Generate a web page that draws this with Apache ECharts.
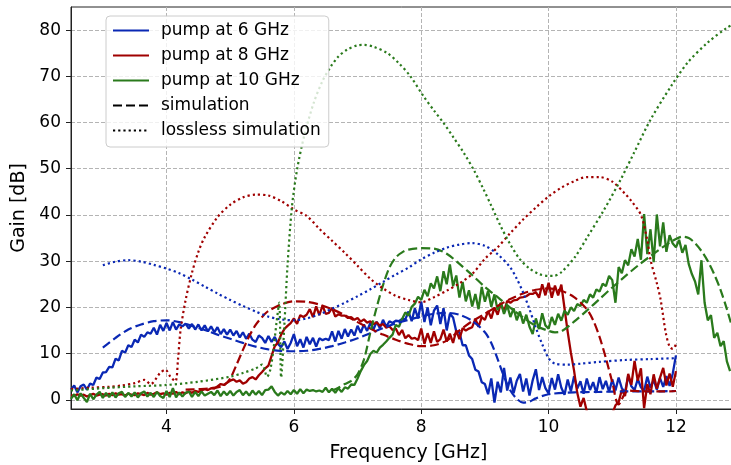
<!DOCTYPE html>
<html>
<head>
<meta charset="utf-8">
<script src="https://cdn.jsdelivr.net/npm/echarts@6/dist/echarts.min.js"></script>
<style>
  html, body { margin: 0; padding: 0; background: #fff; }
  #chart { width: 731px; height: 465px; }
</style>
</head>
<body>
<div id="chart"></div>
<script>
// measured gain, sampled every 0.05 GHz starting at 2.5 GHz
var measStart = 2.5;
var measStep = 0.05;

var meas6 = [
  2.2, 3.1, 1.6, 2.9, 3.3, 2.2, 3.5, 3.2, 4.8, 4.5,
  5.9, 6.0, 7.1, 7.0, 8.9, 8.5, 10.6, 10.2, 11.8, 11.4,
  13.0, 12.4, 14.1, 13.6, 14.6, 14.3, 15.6, 14.1, 16.2, 14.9,
  16.6, 15.0, 16.8, 15.2, 16.3, 15.9, 16.5, 15.4, 16.4, 15.2,
  16.3, 15.0, 16.1, 14.8, 15.9, 14.6, 15.7, 14.2, 15.3, 14.1,
  15.2, 13.9, 14.9, 13.5, 14.6, 13.2, 14.3, 13.0, 12.5, 13.9,
  13.4, 12.3, 13.8, 12.5, 13.6, 12.1, 11.4, 12.6, 11.0, 12.3,
  14.2, 11.6, 13.1, 11.3, 13.6, 12.0, 13.4, 11.5, 13.3, 12.9,
  13.2, 12.9, 14.8, 12.6, 14.9, 13.2, 15.3, 13.7, 15.2, 13.9,
  16.0, 14.5, 16.3, 14.9, 16.6, 15.2, 16.9, 15.5, 17.3, 15.8,
  17.0, 16.6, 17.1, 17.0, 17.5, 17.4, 19.1, 17.0, 19.8, 17.6,
  21.2, 16.8, 20.0, 16.1, 19.3, 20.4, 16.4, 19.8, 15.0, 18.6,
  17.8, 14.8, 14.6, 11.8, 11.8, 9.6, 8.8, 6.5, 6.1, 3.8,
  3.4, 1.2, 4.6, -0.6, 3.9, 1.6, 6.9, 2.0, 4.8, 1.4,
  4.1, 5.6, 1.8, 4.6, 0.9, 4.2, 6.6, 2.1, 4.9, 2.5,
  1.4, 4.7, 2.2, 5.5, 2.6, 1.1, 4.4, 1.8, 5.1, 2.4,
  4.0, 1.3, 4.6, 2.1, 3.8, 1.5, 4.9, 2.3, 4.1, 1.7,
  4.4, 2.0, 4.8, 2.5, 1.6, 5.2, 2.9, 2.1, 4.5, 2.7,
  1.9, 5.0, 2.6, 4.3, 2.2, 4.7, 2.8, 5.1, 3.0, 5.7,
  9.6
];

var meas8 = [
  1.0, 0.8, 1.2, 0.9, 1.1, 0.7, 1.0, 1.3, 0.9, 1.1,
  1.2, 0.9, 1.3, 1.0, 1.4, 1.1, 1.2, 0.9, 1.3, 1.1,
  1.0, 1.4, 1.2, 1.0, 1.5, 1.1, 1.3, 1.6, 1.2, 1.4,
  1.1, 1.5, 1.3, 1.7, 1.2, 1.6, 1.4, 1.8, 1.5, 1.9,
  1.7, 2.0, 2.3, 2.1, 2.5, 2.4, 2.9, 3.4, 3.2, 3.7,
  4.1, 4.4, 3.9, 4.2, 3.5, 3.8, 4.6, 4.9, 4.4, 5.3,
  6.0, 6.8, 7.4, 9.5, 11.6, 12.4, 14.1, 15.3, 16.0, 16.6,
  17.6, 16.4, 18.3, 17.9, 18.4, 19.6, 17.9, 20.2, 18.3, 20.4,
  18.6, 18.8, 19.9, 18.0, 18.5, 18.2, 18.2, 17.7, 17.9, 17.3,
  17.7, 16.9, 17.4, 16.7, 17.0, 16.3, 16.8, 16.0, 16.4, 15.6,
  15.9, 15.1, 15.4, 14.0, 15.1, 13.3, 14.0, 13.2, 13.4, 12.9,
  15.4, 12.1, 14.4, 12.3, 14.8, 12.5, 13.1, 15.2, 12.6, 14.3,
  12.3, 15.0, 13.1, 15.5, 15.0, 15.4, 15.7, 17.5, 15.8, 17.9,
  17.3, 19.2, 17.6, 20.0, 18.4, 20.9, 19.1, 21.4, 21.0, 21.5,
  21.6, 22.1, 22.2, 22.4, 22.9, 22.9, 23.3, 22.1, 25.0, 22.6,
  25.3, 22.1, 24.7, 22.6, 24.9, 19.8, 14.7, 10.2, 6.3, 1.5,
  -1.5, 0.4, -2.5, -3, -3, -3, -3, -3, -3, -3,
  -3, -1.2, -0.5, 2.1, 0.8, 5.6, 3.2, 8.4, 4.1, 6.8,
  -1.8, 3.4, 1.2, 5.5, 2.4, 4.8, 6.9, 3.1, 5.7, 2.8,
  6.2
];

var meas10 = [
  0.2, 1.2, -0.1, 1.4, 0.4, -0.5, 1.3, 0.1, 1.1, 1.7,
  0.4, 1.5, 0.6, 1.6, 0.5, 1.4, 1.7, 0.6, 1.5, 0.7,
  1.6, 0.5, 1.4, 1.8, 0.7, 1.5, 0.6, 1.7, 0.8, 0.4,
  1.9, 0.6, 2.5, 0.5, 1.6, 0.7, 1.5, 1.8, 0.6, 1.7,
  0.8, 1.8, 0.9, 1.3, 1.7, 1.0, 2.0, 0.8, 1.8, 1.0,
  1.9, 0.9, 1.7, 2.1, 1.0, 1.8, 0.9, 2.0, 1.1, 1.9,
  1.0, 2.1, 2.2, 2.9, 1.7, 0.9, 1.6, 1.1, 1.9, 1.2,
  2.1, 1.3, 2.3, 1.4, 2.2, 1.9, 2.1, 1.8, 2.0, 1.7,
  2.6, 1.6, 2.4, 1.5, 2.5, 1.7, 2.7, 2.4, 3.3, 3.2,
  4.6, 6.2, 7.5, 8.4, 9.9, 10.6, 10.2, 11.3, 11.9, 12.6,
  13.4, 14.1, 16.2, 15.8, 17.5, 18.9, 18.2, 20.1, 20.8, 22.3,
  21.6, 23.8, 22.4, 25.2, 24.1, 26.7, 23.5, 27.8, 25.0, 29.3,
  24.6, 26.9, 22.1, 25.5, 21.3, 23.7, 20.2, 22.9, 19.6, 24.4,
  21.2, 23.6, 20.1, 22.8, 19.4, 21.0, 18.6, 20.4, 17.9, 19.8,
  17.2, 19.1, 16.5, 18.4, 15.8, 14.2, 17.6, 15.3, 18.7, 16.1,
  15.4, 17.9, 16.2, 18.6, 17.1, 19.3, 18.4, 20.0, 19.2, 20.7,
  20.3, 21.6, 21.0, 22.8, 22.1, 23.9, 23.4, 25.1, 24.6, 26.8,
  25.9, 21.0, 28.7, 27.4, 30.2, 29.1, 32.6, 31.0, 34.8, 30.3,
  40.2, 31.5, 36.9, 29.8, 40.1, 33.2, 38.4, 32.0, 35.6, 33.8,
  33.0, 34.6, 31.8, 33.5, 29.4, 27.2, 25.6, 22.8, 30.2, 21.0,
  17.2, 18.3, 13.4, 14.5, 11.6, 12.7, 8.3, 6.2
];

// simulation (with losses), [GHz, dB]
var sim6 = [
  [3.0, 11.3], [3.2, 13.4], [3.4, 15.2], [3.6, 16.3], [3.8, 17.0], [4.0, 17.2],
  [4.2, 16.8], [4.4, 16.0], [4.6, 15.1], [4.8, 14.1], [5.0, 13.2], [5.2, 12.3],
  [5.4, 11.5], [5.6, 10.9], [5.8, 10.6], [6.0, 10.5], [6.2, 10.6], [6.4, 11.0],
  [6.6, 11.6], [6.8, 12.4], [7.0, 13.3], [7.2, 14.4], [7.4, 15.5], [7.6, 16.5],
  [7.8, 17.3], [8.0, 18.0], [8.2, 18.6], [8.4, 18.8], [8.6, 18.4], [8.8, 17.1],
  [9.0, 14.6], [9.1, 12.3], [9.2, 8.8], [9.3, 5.0], [9.4, 2.0], [9.5, 0.2],
  [9.6, -0.6], [9.7, -0.4], [9.8, 0.3], [10.0, 1.2], [10.4, 1.6], [10.8, 1.7],
  [11.2, 1.8], [11.6, 1.8], [12.0, 1.9]
];

var sim8 = [
  [4.3, 2.2], [4.5, 2.3], [4.7, 2.5], [4.9, 3.1], [5.0, 4.6], [5.1, 7.6],
  [5.2, 10.8], [5.3, 13.8], [5.4, 16.2], [5.5, 17.9], [5.6, 19.2], [5.8, 20.6],
  [6.0, 21.3], [6.2, 21.2], [6.4, 20.6], [6.6, 19.6], [6.8, 18.3], [7.0, 16.8],
  [7.2, 15.4], [7.4, 14.1], [7.6, 13.0], [7.8, 12.1], [8.0, 11.6], [8.2, 11.8],
  [8.4, 12.8], [8.6, 15.0], [8.8, 17.0], [9.0, 18.6], [9.2, 20.3], [9.4, 21.8],
  [9.6, 23.0], [9.8, 23.8], [10.0, 24.1], [10.2, 23.6], [10.4, 22.2], [10.6, 19.6],
  [10.7, 17.2], [10.8, 13.6], [10.9, 9.0], [11.0, 3.8], [11.1, -1.0], [11.25, 2.0],
  [11.5, 1.8], [11.8, 1.8], [12.0, 1.9]
];

var sim10 = [
  [6.6, 2.0], [6.7, 2.6], [6.8, 3.4], [6.9, 4.1], [7.0, 5.5], [7.1, 8.7],
  [7.2, 14.5], [7.3, 20.0], [7.4, 24.8], [7.5, 28.6], [7.6, 30.8], [7.7, 31.9],
  [7.8, 32.5], [8.0, 32.8], [8.2, 32.7], [8.4, 31.6], [8.6, 29.4], [8.8, 27.0],
  [9.0, 24.4], [9.2, 22.2], [9.4, 19.9], [9.6, 17.8], [9.8, 16.0], [10.0, 14.9],
  [10.1, 14.6], [10.2, 14.8], [10.4, 16.9], [10.6, 19.3], [10.8, 21.8], [11.0, 24.3],
  [11.2, 26.7], [11.4, 29.0], [11.6, 31.1], [11.8, 33.1], [12.0, 34.8], [12.1, 35.3],
  [12.2, 35.0], [12.3, 33.9], [12.4, 32.2], [12.5, 30.0], [12.6, 27.2], [12.7, 23.8],
  [12.8, 19.6], [12.9, 14.8]
];

// lossless simulation, [GHz, dB]
var loss6 = [
  [3.0, 29.1], [3.2, 29.9], [3.4, 30.2], [3.6, 29.9], [3.8, 29.2], [4.0, 28.4],
  [4.2, 27.4], [4.4, 26.0], [4.6, 24.5], [4.8, 23.0], [5.0, 21.6], [5.2, 20.3],
  [5.4, 19.1], [5.6, 18.0], [5.8, 17.4], [6.0, 17.2], [6.2, 17.6], [6.4, 18.5],
  [6.6, 19.7], [6.8, 21.0], [7.0, 22.4], [7.2, 23.9], [7.4, 25.5], [7.6, 27.1],
  [7.8, 28.6], [8.0, 30.4], [8.2, 31.8], [8.4, 32.9], [8.6, 33.6], [8.8, 33.9],
  [9.0, 33.3], [9.2, 31.5], [9.4, 28.6], [9.5, 26.2], [9.6, 23.2], [9.7, 19.6],
  [9.8, 15.6], [9.9, 12.0], [10.0, 9.0], [10.1, 7.8], [10.3, 7.6], [10.5, 7.8],
  [10.8, 8.2], [11.2, 8.6], [11.6, 8.8], [12.0, 9.0]
];

var loss8 = [
  [2.5, 2.3], [2.8, 2.6], [3.1, 2.8], [3.3, 3.1], [3.5, 3.6], [3.65, 4.3],
  [3.75, 3.4], [3.9, 5.8], [3.98, 6.5], [4.06, 5.0], [4.14, 4.0], [4.18, 8.7],
  [4.22, 15.0], [4.3, 21.6], [4.4, 27.5], [4.5, 32.0], [4.6, 35.2], [4.8, 39.5],
  [5.0, 42.2], [5.2, 43.8], [5.4, 44.4], [5.6, 44.2], [5.8, 43.0], [6.0, 41.2],
  [6.2, 39.8], [6.4, 37.0], [6.6, 34.4], [6.8, 31.8], [7.0, 29.0], [7.2, 26.2],
  [7.4, 24.1], [7.6, 22.5], [7.8, 21.6], [8.0, 21.1], [8.2, 22.2], [8.4, 23.6],
  [8.6, 25.2], [8.8, 27.2], [9.0, 30.5], [9.2, 33.0], [9.4, 36.1], [9.6, 39.0],
  [9.8, 41.6], [10.0, 44.0], [10.2, 45.9], [10.4, 47.3], [10.6, 48.2], [10.8, 48.2],
  [11.0, 47.2], [11.2, 44.6], [11.3, 43.0], [11.45, 40.0], [11.55, 34.5], [11.6, 30.3],
  [11.7, 25.2], [11.76, 21.6], [11.84, 14.5], [11.9, 11.5], [11.95, 11.0], [12.0, 12.0]
];

var loss10 = [
  [2.5, 2.0], [3.0, 2.5], [3.5, 2.9], [4.0, 3.2], [4.5, 3.9], [5.0, 5.0],
  [5.2, 5.8], [5.4, 6.8], [5.5, 7.6], [5.58, 5.0], [5.63, 6.5], [5.68, 11.0],
  [5.73, 17.0], [5.77, 21.0], [5.8, 4.8], [5.85, 16.0], [5.9, 29.0], [5.97, 41.8],
  [6.05, 49.8], [6.16, 57.0], [6.31, 64.2], [6.45, 69.0], [6.58, 72.1], [6.7, 74.3],
  [6.84, 75.8], [7.0, 76.7], [7.1, 76.8], [7.25, 76.4], [7.47, 75.0], [7.65, 72.8],
  [7.83, 70.0], [8.04, 65.6], [8.2, 62.6], [8.35, 59.9], [8.5, 56.9], [8.67, 53.4],
  [8.83, 49.6], [8.98, 45.5], [9.1, 42.0], [9.25, 37.5], [9.4, 33.6], [9.55, 30.4],
  [9.7, 28.4], [9.85, 27.2], [10.0, 26.8], [10.08, 26.8], [10.2, 27.6], [10.42, 31.0],
  [10.6, 35.0], [10.87, 41.1], [11.13, 47.6], [11.34, 53.4], [11.6, 60.6], [11.92, 67.8],
  [12.18, 72.9], [12.49, 77.2], [12.8, 80.5], [12.95, 81.5]
];

var xTicks = [4, 6, 8, 10, 12];
var yTicks = [0, 10, 20, 30, 40, 50, 60, 70, 80];

var BLUE = '#0a28b4';
var RED = '#a00000';
var GREEN = '#2a7a1c';
var FONT = 'DejaVu Sans';

function toPairs(values) {
  return values.map(function (v, i) {
    return [Math.round((measStart + i * measStep) * 100) / 100, v];
  });
}

function measured(name, color, values) {
  return {
    name: name, type: 'line', data: toPairs(values),
    symbol: 'none', color: color, z: 2,
    lineStyle: { color: color, width: 2.3 }
  };
}

function curve(name, color, data, dash, width) {
  return {
    name: name, type: 'line', data: data,
    symbol: 'none', smooth: 0.3, color: color, z: 3,
    lineStyle: { color: color, width: width, type: dash }
  };
}

var DASH = [9, 4];
var DOT = [2.2, 3.0];

var chart = echarts.init(document.getElementById('chart'), null, { renderer: 'canvas' });

chart.setOption({
  animation: false,
  backgroundColor: '#ffffff',
  grid: {
    left: 71, top: 7, width: 675, height: 402,
    outerBoundsMode: 'none',
    containLabel: false,
    show: true, borderColor: '#222', borderWidth: 1, backgroundColor: 'transparent'
  },
  legend: {
    left: 106, top: 16,
    orient: 'vertical',
    selectedMode: false,
    itemWidth: 36, itemHeight: 14, itemGap: 8,
    padding: [6, 8, 8, 6],
    backgroundColor: 'rgba(255,255,255,0.8)',
    borderColor: '#cccccc', borderWidth: 1, borderRadius: 4,
    itemStyle: { opacity: 0 },
    textStyle: { fontFamily: FONT, fontSize: 17, color: '#000', padding: [0, 0, 0, 7] },
    data: ['pump at 6 GHz', 'pump at 8 GHz', 'pump at 10 GHz', 'simulation', 'lossless simulation']
  },
  xAxis: {
    type: 'value', min: 2.5, max: 13.1,
    name: 'Frequency [GHz]', nameLocation: 'middle', nameGap: 35,
    nameTextStyle: { fontFamily: FONT, fontSize: 19, color: '#000' },
    axisLine: { onZero: false, lineStyle: { color: '#222', width: 1 } },
    axisTick: { show: true, length: 5, customValues: xTicks, lineStyle: { color: '#222' } },
    axisLabel: { customValues: xTicks, fontFamily: FONT, fontSize: 17, color: '#000', margin: 10 },
    splitLine: { show: true, lineStyle: { color: '#b4b4b4', width: 1, type: [4, 2] } }
  },
  yAxis: {
    type: 'value', min: -2, max: 85,
    name: 'Gain [dB]', nameLocation: 'middle', nameGap: 36, nameRotate: 90,
    nameTextStyle: { fontFamily: FONT, fontSize: 19, color: '#000' },
    axisLine: { show: true, onZero: false, lineStyle: { color: '#222', width: 1 } },
    axisTick: { show: true, length: 5, customValues: yTicks, lineStyle: { color: '#222' } },
    axisLabel: { customValues: yTicks, fontFamily: FONT, fontSize: 17, color: '#000', margin: 10 },
    splitLine: { show: true, lineStyle: { color: '#b4b4b4', width: 1, type: [4, 2] } }
  },
  series: [
    measured('pump at 6 GHz', BLUE, meas6),
    measured('pump at 8 GHz', RED, meas8),
    measured('pump at 10 GHz', GREEN, meas10),
    curve('simulation', '#000', [], DASH, 2),
    curve('lossless simulation', '#000', [], DOT, 2),
    curve('sim 6', BLUE, sim6, DASH, 2.2),
    curve('sim 8', RED, sim8, DASH, 2.2),
    curve('sim 10', GREEN, sim10, DASH, 2.2),
    curve('lossless 6', BLUE, loss6, DOT, 2.2),
    curve('lossless 8', RED, loss8, DOT, 2.2),
    curve('lossless 10', GREEN, loss10, DOT, 2.2)
  ]
});
</script>
</body>
</html>
